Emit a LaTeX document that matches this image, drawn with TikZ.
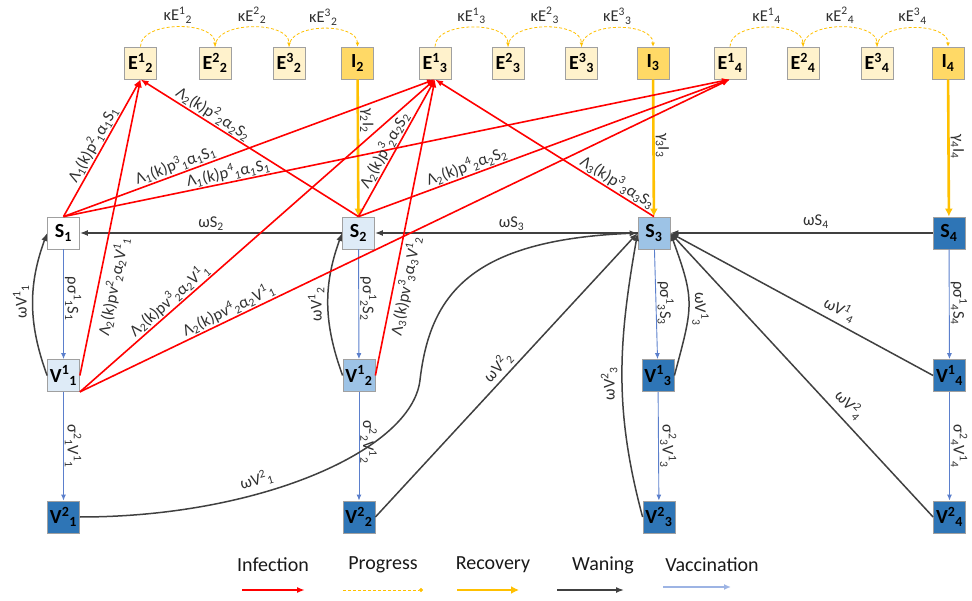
\documentclass[tikz,border=0pt]{standalone}
\usepackage{fontspec}
\setmainfont{Carlito}
\usetikzlibrary{arrows.meta,calc}
\definecolor{redc}{HTML}{FF0000}
\definecolor{goldc}{HTML}{FFC000}
\definecolor{wanc}{HTML}{404040}
\definecolor{vacc}{HTML}{5B7FCC}
\definecolor{vaclc}{HTML}{9DB4E4}
\definecolor{efill}{HTML}{FFF2CC}
\definecolor{ifill}{HTML}{FFD966}
\definecolor{bone}{HTML}{DEEBF7}
\definecolor{btwo}{HTML}{9DC3E6}
\definecolor{bthree}{HTML}{2E75B6}
\definecolor{bord}{HTML}{A0A0A0}
\definecolor{labc}{HTML}{303030}
\newcommand\SUP[1]{\textsuperscript{#1}}
\newcommand\SUB[1]{\textsubscript{#1}}
\begin{document}
\begin{tikzpicture}[x=1pt,y=-1pt,
  box/.style={draw=bord, line width=0.8pt, minimum width=32pt, minimum height=32pt, inner sep=0pt, font=\fontsize{20}{22}\selectfont\bfseries, text=black},
  ebox/.style={box, fill=efill},
  ibox/.style={box, fill=ifill},
  wbox/.style={box, fill=white},
  lbox/.style={box, fill=bone},
  mbox/.style={box, fill=btwo},
  dbox/.style={box, fill=bthree},
  lab/.style={font=\fontsize{16.5}{18}\selectfont, text=labc, inner sep=1pt},
  leg/.style={font=\fontsize{20}{22}\selectfont, text=black!90},
  inf/.style={draw=redc, line width=1.6pt, -{Latex[length=8pt,width=6pt]}},
  prog/.style={draw=goldc, line width=0.8pt, dash pattern=on 3pt off 2pt, -{Latex[length=4pt,width=4pt]}},
  progleg/.style={draw=goldc, line width=0.8pt, dash pattern=on 3pt off 2pt, -{Circle[length=4pt]}},
  rec/.style={draw=goldc, line width=2.6pt, -{Latex[length=8pt,width=8pt]}},
  wan/.style={draw=wanc, line width=1.5pt, -{Latex[length=8pt,width=6pt]}},
  vac/.style={draw=vacc, line width=0.9pt, -{Latex[length=6pt,width=5pt]}},
  vacleg/.style={draw=vaclc, line width=1.4pt, -{Latex[length=7pt,width=6pt]}},
]
\useasboundingbox (0,0) rectangle (972,601);
% top row
\node[ebox] (E12) at (140.5,63) {E\SUP{1}\SUB{2}};
\node[ebox] (E22) at (215,63) {E\SUP{2}\SUB{2}};
\node[ebox] (E32) at (289,63) {E\SUP{3}\SUB{2}};
\node[ibox] (I2) at (357.5,63) {I\SUB{2}};
\node[ebox] (E13) at (435,63) {E\SUP{1}\SUB{3}};
\node[ebox] (E23) at (508,63) {E\SUP{2}\SUB{3}};
\node[ebox] (E33) at (581.5,63) {E\SUP{3}\SUB{3}};
\node[ibox] (I3) at (653,63) {I\SUB{3}};
\node[ebox] (E14) at (730,63) {E\SUP{1}\SUB{4}};
\node[ebox] (E24) at (803,63) {E\SUP{2}\SUB{4}};
\node[ebox] (E34) at (877,63) {E\SUP{3}\SUB{4}};
\node[ibox] (I4) at (948,63) {I\SUB{4}};
% S row
\node[wbox] (S1) at (63.5,233) {S\SUB{1}};
\node[lbox] (S2) at (358.5,233) {S\SUB{2}};
\node[mbox] (S3) at (654,233) {S\SUB{3}};
\node[dbox] (S4) at (949,233) {S\SUB{4}};
% V1 row
\node[lbox] (V11) at (63.5,375.5) {V\SUP{1}\SUB{1}};
\node[mbox] (V12) at (359,375.5) {V\SUP{1}\SUB{2}};
\node[dbox] (V13) at (658,375.5) {V\SUP{1}\SUB{3}};
\node[dbox] (V14) at (949.5,375.5) {V\SUP{1}\SUB{4}};
% V2 row
\node[dbox] (V21) at (63.5,517) {V\SUP{2}\SUB{1}};
\node[dbox] (V22) at (359,517) {V\SUP{2}\SUB{2}};
\node[dbox] (V23) at (659,517) {V\SUP{2}\SUB{3}};
\node[dbox] (V24) at (949.5,517) {V\SUP{2}\SUB{4}};

% progress
\draw[prog] (E12.north) to[out=90,in=90,looseness=0.9] node[lab,midway,above=2pt]{κE\SUP{1}\SUB{2}} (E22.north);
\draw[prog] (E22.north) to[out=90,in=90,looseness=0.9] node[lab,midway,above=2pt]{κE\SUP{2}\SUB{2}} (E32.north);
\draw[prog] (E32.north) to[out=90,in=90,looseness=0.9] node[lab,midway,above=2pt]{κE\SUP{3}\SUB{2}} (I2.north);
\draw[prog] (E13.north) to[out=90,in=90,looseness=0.9] node[lab,midway,above=2pt]{κE\SUP{1}\SUB{3}} (E23.north);
\draw[prog] (E23.north) to[out=90,in=90,looseness=0.9] node[lab,midway,above=2pt]{κE\SUP{2}\SUB{3}} (E33.north);
\draw[prog] (E33.north) to[out=90,in=90,looseness=0.9] node[lab,midway,above=2pt]{κE\SUP{3}\SUB{3}} (I3.north);
\draw[prog] (E14.north) to[out=90,in=90,looseness=0.9] node[lab,midway,above=2pt]{κE\SUP{1}\SUB{4}} (E24.north);
\draw[prog] (E24.north) to[out=90,in=90,looseness=0.9] node[lab,midway,above=2pt]{κE\SUP{2}\SUB{4}} (E34.north);
\draw[prog] (E34.north) to[out=90,in=90,looseness=0.9] node[lab,midway,above=2pt]{κE\SUP{3}\SUB{4}} (I4.north);

% recovery
\draw[rec] (I2) -- (S2) node[lab,pos=0.3,rotate=-90,anchor=south]{γ\SUB{2}I\SUB{2}};
\draw[rec] (I3) -- (S3) node[lab,pos=0.48,rotate=-90,anchor=south]{γ\SUB{3}I\SUB{3}};
\draw[rec] (I4) -- (S4) node[lab,pos=0.49,rotate=-90,anchor=south]{γ\SUB{4}I\SUB{4}};

% vaccination
\draw[vac] (S1) -- (V11) node[lab,pos=0.45,rotate=-90,anchor=south]{ρσ\SUP{1}\SUB{1}S\SUB{1}};
\draw[vac] (S2) -- (V12) node[lab,pos=0.45,rotate=-90,anchor=south]{ρσ\SUP{1}\SUB{2}S\SUB{2}};
\draw[vac] (S3) -- (V13) node[lab,pos=0.49,rotate=-90,anchor=south]{ρσ\SUP{1}\SUB{3}S\SUB{3}};
\draw[vac] (S4) -- (V14) node[lab,pos=0.49,rotate=-90,anchor=south]{ρσ\SUP{1}\SUB{4}S\SUB{4}};
\draw[vac] (V11) -- (V21) node[lab,pos=0.5,rotate=-90,anchor=south]{σ\SUP{2}\SUB{1}V\SUP{1}\SUB{1}};
\draw[vac] (V12) -- (V22) node[lab,pos=0.46,rotate=-90,anchor=south]{σ\SUP{2}\SUB{2}V\SUP{1}\SUB{2}};
\draw[vac] (V13) -- (V23) node[lab,pos=0.5,rotate=-90,anchor=south]{σ\SUP{2}\SUB{3}V\SUP{1}\SUB{3}};
\draw[vac] (V14) -- (V24) node[lab,pos=0.5,rotate=-90,anchor=south]{σ\SUP{2}\SUB{4}V\SUP{1}\SUB{4}};

% waning
\draw[wan] (S2) -- (S1) node[lab,midway,above=1pt]{ωS\SUB{2}};
\draw[wan] (S3) -- (S2) node[lab,pos=0.48,above=1pt]{ωS\SUB{3}};
\draw[wan] (S4) -- (S3) node[lab,pos=0.445,above=3pt]{ωS\SUB{4}};
\draw[wan] (V11.west) to[out=110,in=-110,looseness=1] node[lab,pos=0.52,rotate=90,anchor=south,yshift=2pt]{ωV\SUP{1}\SUB{1}} (S1.west);
\draw[wan] (V12.west) to[out=110,in=-110,looseness=1] node[lab,pos=0.5,rotate=90,anchor=south,yshift=2pt]{ωV\SUP{1}\SUB{2}} (S2.west);
\draw[wan] (V13.east) to[out=75,in=-70,looseness=1.3] node[lab,pos=0.45,rotate=-90,anchor=south,yshift=2pt]{ωV\SUP{1}\SUB{3}} (S3.east);
\draw[wan] (V23.west) to[out=105,in=-100,looseness=1] node[lab,pos=0.47,rotate=90,anchor=south,yshift=3pt]{ωV\SUP{2}\SUB{3}} (S3.west);
\draw[wan] (V14.west) -- (S3.east) node[lab,pos=0.38,sloped,above=4pt]{ωV\SUP{1}\SUB{4}};
\draw[wan] (V24.west) -- (S3.east) node[lab,pos=0.36,sloped,above=5pt]{ωV\SUP{2}\SUB{4}};
\draw[wan] (V22.east) -- (S3.west) node[lab,pos=0.5,sloped,above=2pt]{ωV\SUP{2}\SUB{2}};
\draw[wan] (V21.east) .. controls (260,517) and (412,450) .. (420,380)
  node[lab,pos=0.365,sloped,above=4pt]{ωV\SUP{2}\SUB{1}}
  .. controls (430,295) and (470,240) .. (S3.west);

% infection
\draw[inf] (S1.north) -- (E12.south) node[lab,pos=0.49,sloped,above]{Λ\SUB{1}(k)p\SUP{2}\SUB{1}α\SUB{1}S\SUB{1}};
\draw[inf] (S1.north) -- (E13.south) node[lab,pos=0.31,sloped,above]{Λ\SUB{1}(k)p\SUP{3}\SUB{1}α\SUB{1}S\SUB{1}};
\draw[inf] (S1.north) -- (E14.south) node[lab,pos=0.25,sloped,above]{Λ\SUB{1}(k)p\SUP{4}\SUB{1}α\SUB{1}S\SUB{1}};
\draw[inf] (S2.north) -- (E12.south) node[lab,pos=0.69,sloped,above]{Λ\SUB{2}(k)p\SUP{2}\SUB{2}α\SUB{2}S\SUB{2}};
\draw[inf] (S2.north) -- (E13.south) node[lab,pos=0.45,sloped,above]{Λ\SUB{2}(k)p\SUP{3}\SUB{2}α\SUB{2}S\SUB{2}};
\draw[inf] (S2.north) -- (E14.south) node[lab,pos=0.30,sloped,above]{Λ\SUB{2}(k)p\SUP{4}\SUB{2}α\SUB{2}S\SUB{2}};
\draw[inf] (S3.north) -- (E13.south) node[lab,pos=0.19,sloped,above]{Λ\SUB{3}(k)p\SUP{3}\SUB{3}α\SUB{3}S\SUB{3}};
\draw[inf] (V11.east) -- (E12.south) node[lab,pos=0.31,sloped,below=5pt]{Λ\SUB{2}(k)pv\SUP{2}\SUB{2}α\SUB{2}V\SUP{1}\SUB{1}};
\draw[inf] (V11.south east) -- (E13.south) node[lab,pos=0.27,sloped,above]{Λ\SUB{2}(k)pv\SUP{3}\SUB{2}α\SUB{2}V\SUP{1}\SUB{1}};
\draw[inf] (V11.south east) -- (E14.south) node[lab,pos=0.235,sloped,above]{Λ\SUB{2}(k)pv\SUP{4}\SUB{2}α\SUB{2}V\SUP{1}\SUB{1}};
\draw[inf] (V12.east) -- (E13.south) node[lab,pos=0.31,sloped,below=2pt]{Λ\SUB{3}(k)pv\SUP{3}\SUB{3}α\SUB{3}V\SUP{1}\SUB{2}};

% legend
\node[leg] (L1) at (273,565) {Infection};
\node[leg] (L2) at (383,565) {Progress};
\node[leg] (L3) at (493,565) {Recovery};
\node[leg] (L4) at (603,565) {Waning};
\node[leg] (L5) at (712,565) {Vaccination};
\coordinate (a1) at (242,590); \coordinate (b1) at (305,590);
\coordinate (a2) at (343,590); \coordinate (b2) at (423,590);
\coordinate (a3) at (457,590); \coordinate (b3) at (519,590);
\coordinate (a4) at (557,590); \coordinate (b4) at (624,590);
\coordinate (a5) at (663,587); \coordinate (b5) at (731,587);
\draw[inf] (a1) -- (b1);
\draw[progleg] (a2) -- (b2);
\draw[rec] (a3) -- (b3);
\draw[wan] (a4) -- (b4);
\draw[vacleg] (a5) -- (b5);
\end{tikzpicture}
\end{document}
